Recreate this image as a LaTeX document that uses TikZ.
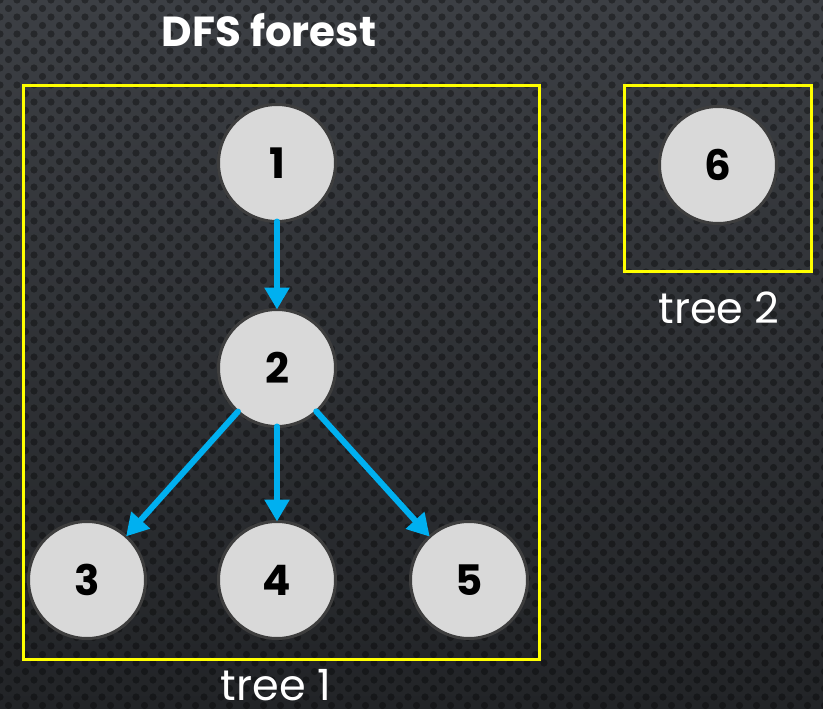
\documentclass[tikz,border=0pt]{standalone}
\usepackage{fontspec}
\setmainfont{Poppins}
\usepackage{tikz}
\usepackage{tkz-graph}
\usetikzlibrary{arrows.meta}

\definecolor{slidetop}{HTML}{3C3F44}
\definecolor{slidebottom}{HTML}{222427}
\definecolor{nodefill}{HTML}{D9D9D9}
\definecolor{nodering}{HTML}{3E3E3E}
\definecolor{treeline}{HTML}{FFFF00}
\definecolor{edgeblue}{HTML}{00B0F0}

\tikzset{
  treebox/.style = {draw=treeline, line width=3pt},
  caption/.style = {text=white, inner sep=0pt, font=\fontsize{43}{43}\selectfont, anchor=base},
  heading/.style = {text=white, font=\bfseries\fontsize{42}{42}\selectfont, anchor=base},
  slidedot/.style = {fill=black, opacity=0.35},
}

\begin{document}
\begin{tikzpicture}[x=1pt, y=-1pt,
    VertexStyle/.style = {circle, draw=nodering, line width=3pt, fill=nodefill,
      minimum size=117pt, inner sep=0pt, text=black,
      font=\bfseries\fontsize{42}{42}\selectfont},
    EdgeStyle/.style = {draw=edgeblue, line width=6pt, line cap=round,
      -{Triangle[width=24pt,length=22pt]}},
    LabelStyle/.style = {draw=none, fill=none}]
	      	\useasboundingbox (0,0) rectangle (823,709);
	      	% slide background
	      	\shade[top color=slidetop, bottom color=slidebottom] (0,0) rectangle (823,709);
	      	\foreach \row in {0,...,84} {
	      	  \pgfmathsetmacro{\shift}{mod(\row,2)*8.5}
	      	  \foreach \col in {0,...,49}
	      	    \fill[slidedot] (\col*17+\shift, \row*8.5) circle (3.6pt);
	      	}
	      	% trees
	      	\draw[treebox] (23,86) rectangle (539,659);
	      	\draw[treebox] (624,86) rectangle (811,271);
	      	\node[heading] (title) at (269,47) {DFS forest};
	      	\node[caption] (tree1) at (276,700) {tree 1};
	      	\node[caption] (tree2) at (719,323) {tree 2};
	      	\Vertex[x = 277, y = 163]{1}
	      	\Vertex[x = 277, y = 368]{2}
	      	\Vertex[x = 87,  y = 580]{3}
	      	\Vertex[x = 277, y = 580]{4}
	      	\Vertex[x = 469, y = 580]{5}
	      	\Vertex[x = 718, y = 165]{6}
	      	\Edge(1)(2)
	      	\Edge(2)(3)
	      	\Edge(2)(4)
	      	\Edge(2)(5)
	      \end{tikzpicture}
\end{document}
